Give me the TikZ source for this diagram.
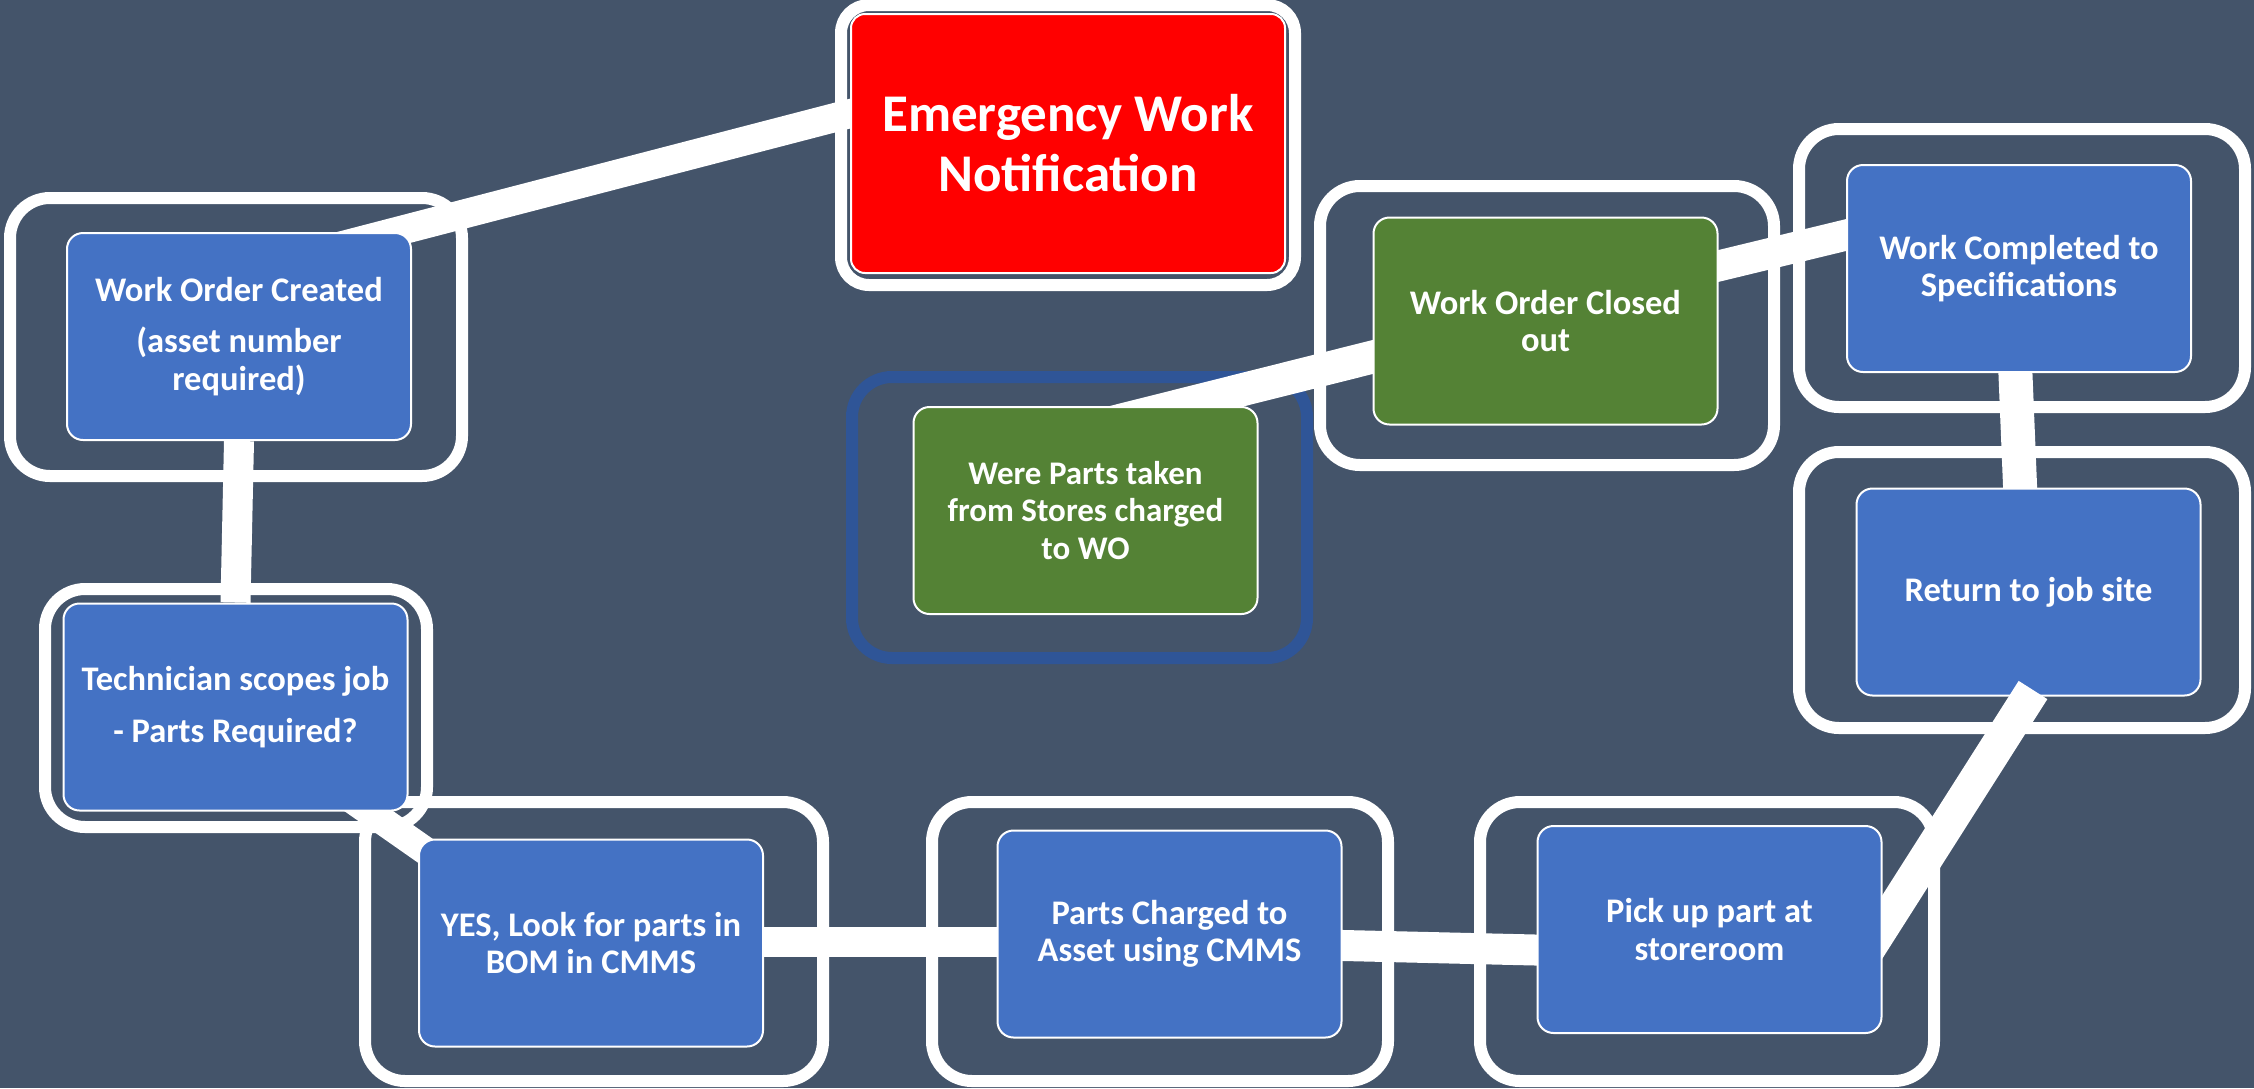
\documentclass[tikz,border=0pt]{standalone}
\usepackage{fontspec}
\setmainfont{Carlito}
\usetikzlibrary{calc}
\definecolor{bgslate}{HTML}{44546A}
\definecolor{boxblue}{HTML}{4472C4}
\definecolor{boxgreen}{HTML}{548235}
\definecolor{boxred}{HTML}{FF0000}
\definecolor{ringblue}{HTML}{2F5597}
\pgfdeclarelayer{backdrop}
\pgfdeclarelayer{frames}
\pgfdeclarelayer{links}
\pgfdeclarelayer{retbox}
\pgfdeclarelayer{overlink}
\pgfsetlayers{backdrop,frames,links,retbox,overlink,main}
\tikzset{
  box/.style={draw=white, line width=2pt, rounded corners=16pt,
    minimum width=344pt, minimum height=207pt, inner sep=0pt,
    text=white, align=center, font=\fontsize{34.5}{37.5}\selectfont\bfseries},
  bluebox/.style={box, fill=boxblue},
  greenbox/.style={box, fill=boxgreen},
  redbox/.style={box, fill=boxred, minimum width=434pt, minimum height=259pt,
    rounded corners=14pt, font=\fontsize{53}{60}\selectfont\bfseries},
  ring/.style={draw=white, line width=12pt, rounded corners=40pt},
  bluering/.style={ring, draw=ringblue},
  link/.style={draw=white, line width=30pt},
}
\begin{document}
\begin{tikzpicture}[x=1pt,y=-1pt]
\begin{pgfonlayer}{backdrop}
\fill[bgslate] (0,0) rectangle (2254,1088);
\end{pgfonlayer}
\useasboundingbox (0,0) rectangle (2254,1088);

% process steps
\node[redbox] (em) at (1068,143.5) {Emergency Work\\Notification};
\node[bluebox] (wo) at (239,336.5) {Work Order Created\\[14pt](asset number\\required)};
\node[bluebox] (tech) at (235.5,707) {Technician scopes job\\[14pt]- Parts Required?};
\node[bluebox] (yes) at (591,943) {YES, Look for parts in\\BOM in CMMS};
\node[bluebox] (parts) at (1169.5,934) {Parts Charged to\\Asset using CMMS};
\node[bluebox] (pick) at (1709.5,929.5) {Pick up part at\\storeroom};
\begin{pgfonlayer}{retbox}
\node[bluebox] (ret) at (2028.5,592) {Return to job site};
\end{pgfonlayer}
\node[bluebox] (wc) at (2019,268.5) {Work Completed to\\Specifications};
\node[greenbox] (woc) at (1545.5,321) {Work Order Closed\\out};
\node[greenbox, font=\fontsize{33}{37.5}\selectfont\bfseries] (were) at (1085.5,510.5)
  {Were Parts taken\\from Stores charged\\to WO};

% rounded frames around the steps
\begin{pgfonlayer}{frames}
\draw[ring, rounded corners=28pt] (841,5) rectangle (1295,285);
\draw[ring] (10,198) rectangle (462,476);
\draw[ring] (45,589) rectangle (427,827);
\draw[ring] (365,802) rectangle (823,1081);
\draw[ring] (932,802) rectangle (1388,1081);
\draw[ring] (1480,802) rectangle (1934,1081);
\draw[ring] (1799,452) rectangle (2245,728);
\draw[ring] (1799,129) rectangle (2245,407);
\draw[ring] (1320,186) rectangle (1774,465);
\draw[bluering] (852,377) rectangle (1307,658);
\end{pgfonlayer}

% connectors
\begin{pgfonlayer}{links}
\draw[link, line width=29pt] ($(wo.center)+(61,-79.9)$) -- ($(em.center)+(-188,-37.7)$);
\draw[link, line width=30pt] (wo.south) -- (tech.north);
\draw[link, line width=28pt] ($(tech.center)+(94.5,77)$) -- ($(yes.center)+(-131,-68)$);
\draw[link] ($(yes.east)+(-20,-1)$) -- ($(parts.west)+(20,8)$);
\draw[link, line width=31pt] ($(parts.east)+(-20,11)$) -- ($(pick.west)+(20,21)$);
\draw[link, line width=34pt] ($(wc.south)+(-4,-10)$) -- ($(ret.north)+(-8,10)$);
\draw[link, line width=31pt] ($(wc.west)+(20,-38.3)$) -- ($(woc.east)+(-20,-50.2)$);
\draw[link, line width=33pt] ($(woc.west)+(20,31)$) -- ($(were.center)+(-25.5,-75)$);
\end{pgfonlayer}
\begin{pgfonlayer}{overlink}
\draw[link, line width=34pt] ($(pick.center)+(150.5,32.5)$) -- ($(ret.center)+(4.5,98)$);
\end{pgfonlayer}
\end{tikzpicture}
\end{document}
